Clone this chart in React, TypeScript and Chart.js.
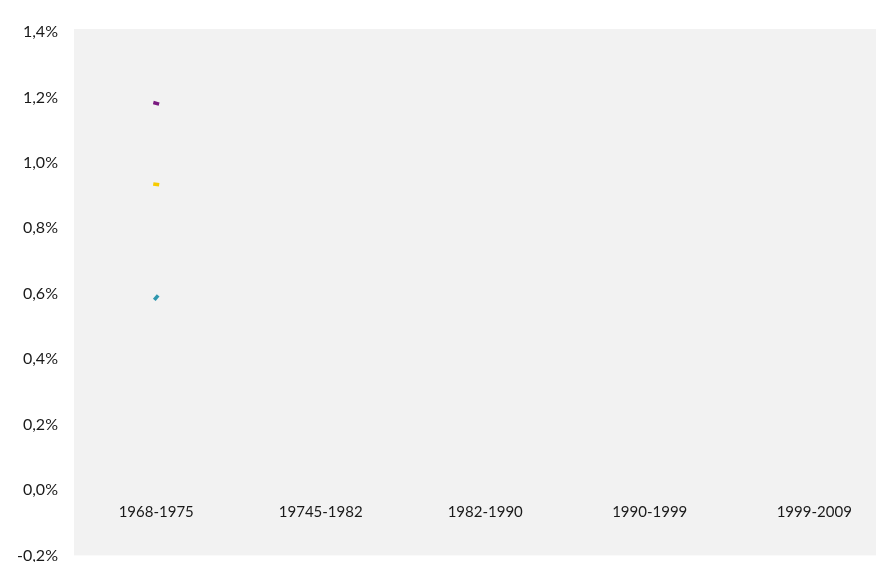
import React, { useEffect, useRef } from "react";
import { Chart, registerables } from "chart.js";

Chart.register(...registerables);

const categories = ["1968-1975", "19745-1982", "1982-1990", "1990-1999", "1999-2009"];
const purpleSeries = [1.182, null, null, null, null];
const yellowSeries = [0.934, null, null, null, null];
const tealSeries = [0.588, null, null, null, null];
const yTickMin = -0.2;
const yTickMax = 1.4;
const yStep = 0.2;

const bgPlugin = {
  id: "plotBg",
  beforeDraw(chart: any) {
    const { ctx, chartArea } = chart;
    if (!chartArea) return;
    ctx.save();
    ctx.fillStyle = "#F2F2F2";
    ctx.fillRect(chartArea.left, chartArea.top - 3, chartArea.right - chartArea.left, chartArea.bottom - chartArea.top + 3);
    ctx.restore();
  },
};

export default function App() {
  const ref = useRef<HTMLCanvasElement | null>(null);
  useEffect(() => {
    if (!ref.current) return;
    const xFont = { family: "Lato, 'Open Sans', sans-serif", size: 15 };
    const yFont = { family: "Lato, 'Open Sans', sans-serif", size: 16 };
    const chart = new Chart(ref.current, {
      type: "line",
      data: {
        labels: categories,
        datasets: [
          { label: "A", data: purpleSeries, borderColor: "#7A1A80", backgroundColor: "#7A1A80", pointStyle: "line", pointRadius: 3, pointBorderWidth: 3.5, rotation: 15, showLine: false } as any,
          { label: "B", data: yellowSeries, borderColor: "#F7CB00", backgroundColor: "#F7CB00", pointStyle: "line", pointRadius: 3, pointBorderWidth: 3.5, rotation: 8, showLine: false } as any,
          { label: "C", data: tealSeries, borderColor: "#2F97AE", backgroundColor: "#2F97AE", pointStyle: "line", pointRadius: 3, pointBorderWidth: 3.5, rotation: -50, showLine: false } as any,
        ],
      },
      options: {
        animation: false,
        responsive: false,
        maintainAspectRatio: false,
        layout: { padding: { left: 1, top: 32, right: 0, bottom: 0 } },
        plugins: { legend: { display: false }, tooltip: { enabled: false } },
        scales: {
          x: {
            type: "category",
            offset: true,
            position: { y: 0 } as any,
            grid: { display: false, drawTicks: false },
            border: { display: false },
            ticks: { color: "#1a1a1a", font: xFont, padding: 13, maxRotation: 0, autoSkip: false },
          },
          y: {
            min: yTickMin,
            max: yTickMax,
            grid: { display: false, drawTicks: false },
            border: { display: false },
            ticks: {
              stepSize: yStep,
              color: "#1a1a1a",
              font: yFont,
              padding: 16,
              callback: (v: any) => (Math.round(Number(v) * 10) / 10).toFixed(1).replace(".", ",") + "%",
            },
          },
        },
      } as any,
      plugins: [bgPlugin],
    });
    return () => chart.destroy();
  }, []);
  return (
    <div style={{ position: "fixed", left: 0, top: 0, width: 876, height: 562, overflow: "hidden", background: "#fff" }}>
      <canvas ref={ref} width={904} height={581} style={{ display: "block" }} />
    </div>
  );
}
